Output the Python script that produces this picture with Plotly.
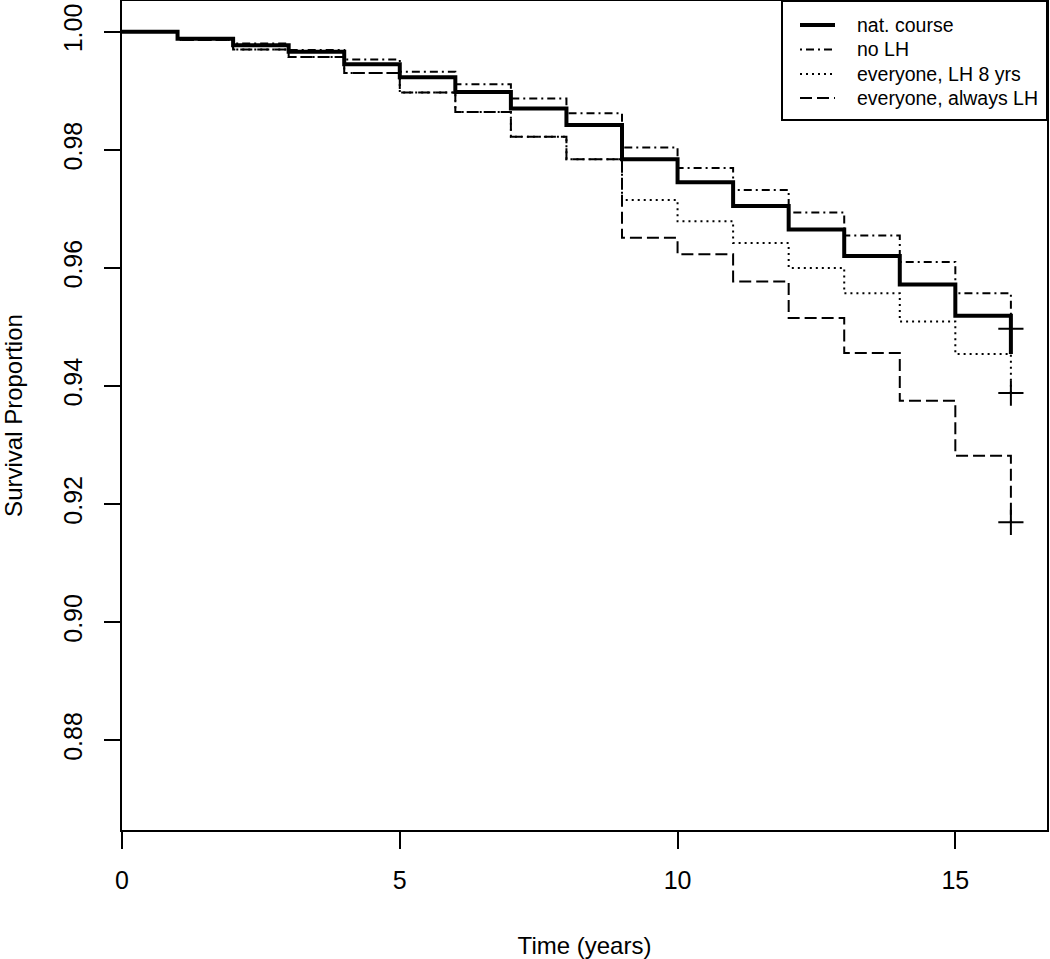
import plotly.graph_objects as go

# Step times (value at index i holds on [i, i+1); last value is the value at t=16)
times = [0, 1, 2, 3, 4, 5, 6, 7, 8, 9, 10, 11, 12, 13, 14, 15, 16]

nat_course = [1.000, 0.9988, 0.9977, 0.9966, 0.9945, 0.9923, 0.9898, 0.9870, 0.9842,
              0.9784, 0.9745, 0.9705, 0.9665, 0.9620, 0.9572, 0.9519, 0.9454]
no_lh = [1.000, 0.9988, 0.9980, 0.9969, 0.9953, 0.9932, 0.9911, 0.9887, 0.9862,
         0.9804, 0.9769, 0.9732, 0.9694, 0.9655, 0.9610, 0.9557, 0.9497]
lh_8yrs = [1.000, 0.9986, 0.9970, 0.9957, 0.9930, 0.9897, 0.9864, 0.9822, 0.9784,
           0.9715, 0.9679, 0.9642, 0.9600, 0.9557, 0.9509, 0.9454, 0.9388]
always_lh = [1.000, 0.9986, 0.9970, 0.9957, 0.9930, 0.9897, 0.9864, 0.9822, 0.9784,
             0.9651, 0.9623, 0.9577, 0.9515, 0.9456, 0.9375, 0.9282, 0.9169]

cross_t = [16, 16, 16]
cross_v = [0.9497, 0.9388, 0.9169]

x_ticks = [0, 5, 10, 15]
y_ticks = [0.88, 0.90, 0.92, 0.94, 0.96, 0.98, 1.00]
y_tick_labels = ["0.88", "0.90", "0.92", "0.94", "0.96", "0.98", "1.00"]

legend_labels = ["nat. course", "no LH", "everyone, LH 8 yrs", "everyone, always LH"]

styles = {
    "nat. course": dict(color="black", width=4, dash="solid"),
    "no LH": dict(color="black", width=2, dash="2px,4px,8px,4px"),
    "everyone, LH 8 yrs": dict(color="black", width=2, dash="2px,4px"),
    "everyone, always LH": dict(color="black", width=2, dash="12px,5px"),
}
series = {
    "nat. course": nat_course,
    "no LH": no_lh,
    "everyone, LH 8 yrs": lh_8yrs,
    "everyone, always LH": always_lh,
}

fig = go.Figure()
for name in reversed(legend_labels):
    fig.add_trace(go.Scatter(x=times, y=series[name], mode="lines", name=name,
                             showlegend=False,
                             line=dict(shape="hv", **styles[name])))

fig.add_trace(go.Scatter(x=cross_t, y=cross_v, mode="markers", showlegend=False,
                         marker=dict(symbol="cross-thin", size=18,
                                     line=dict(color="black", width=2))))

# ---- layout geometry (pixels) ----
W, H = 1050, 959
ML, MR, MT, MB = 122, 3, 1, 129
PW, PH = W - ML - MR, H - MT - MB


def px_x(px):
    return (px - ML) / PW


def px_y(py):
    return 1 - (py - MT) / PH


font = "Liberation Sans, Arial, sans-serif"

# legend drawn as a boxed key inside the plot's top-right corner
shapes = [dict(type="rect", xref="paper", yref="paper",
               x0=px_x(782), x1=1.0, y0=px_y(120), y1=1.0,
               line=dict(color="black", width=2), fillcolor="white", layer="above")]
annotations = []
row_y = [25, 49.5, 74, 98]
for name, ry in zip(legend_labels, row_y):
    st = styles[name]
    shapes.append(dict(type="line", xref="paper", yref="paper",
                       x0=px_x(800), x1=px_x(835), y0=px_y(ry), y1=px_y(ry),
                       line=dict(color="black", width=st["width"], dash=st["dash"]),
                       layer="above"))
    annotations.append(dict(xref="paper", yref="paper", x=px_x(855), y=px_y(ry),
                            xanchor="left", yanchor="middle", showarrow=False,
                            text=name, font=dict(size=19.5, family=font, color="black")))

fig.update_layout(
    width=W, height=H,
    margin=dict(l=ML, r=MR, t=MT, b=MB),
    paper_bgcolor="white", plot_bgcolor="white",
    font=dict(family=font, color="black", size=25),
    showlegend=False,
    shapes=shapes,
    annotations=annotations,
    xaxis=dict(range=[0, 16.65], tickvals=x_ticks, showgrid=False, zeroline=False,
               automargin=False,
               showline=True, mirror=True, linecolor="black", linewidth=2,
               ticks="outside", ticklen=17, tickwidth=1.5, tickcolor="black",
               ticklabelstandoff=10,
               tickfont=dict(size=25),
               title=dict(text="Time (years)", font=dict(size=24), standoff=46)),
    yaxis=dict(range=[0.8648, 1.0052], tickvals=y_ticks, ticktext=y_tick_labels,
               showgrid=False, zeroline=False, tickangle=-90, automargin=False,
               showline=True, mirror=True, linecolor="black", linewidth=2,
               ticks="outside", ticklen=16, tickwidth=1.5, tickcolor="black",
               ticklabelstandoff=12,
               tickfont=dict(size=25),
               title=dict(text="Survival Proportion", font=dict(size=24), standoff=39)),
)

fig.write_html("out.html",
               config={"displayModeBar": False},
               post_script="document.body.style.margin='0';document.body.style.padding='0';")
